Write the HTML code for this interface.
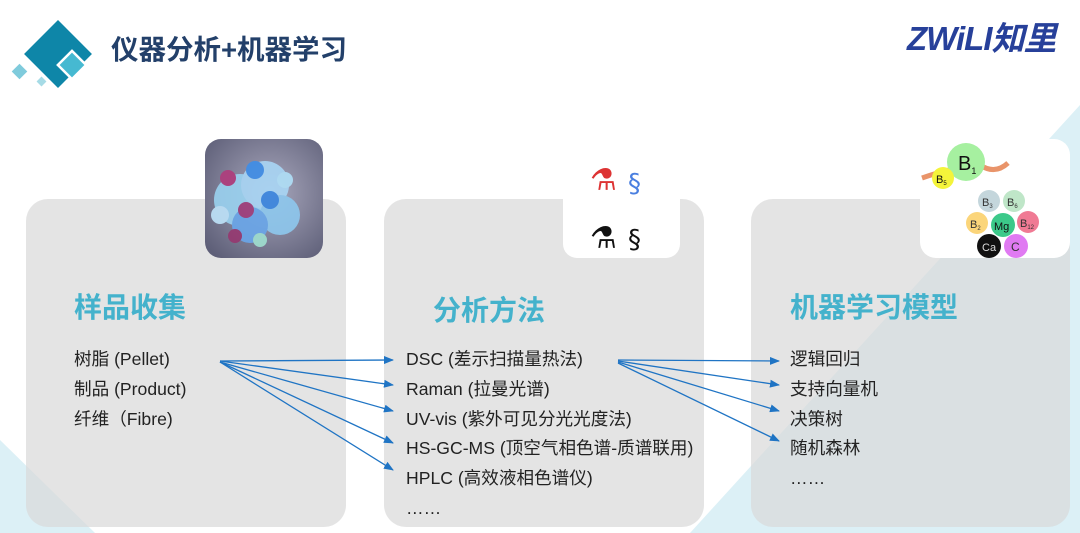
<!DOCTYPE html>
<html><head><meta charset="utf-8"><style>
html,body{margin:0;padding:0;background:#fff;}
body{width:1080px;height:533px;overflow:hidden;position:relative;font-family:"Liberation Sans","Noto Sans CJK SC",sans-serif;}
svg{position:absolute;left:0;top:0;}
.t{position:absolute;font-family:"Liberation Sans","Noto Sans CJK SC",sans-serif;white-space:nowrap;}
.h{font-size:28px;font-weight:bold;color:#44b2cc;}
.i{font-size:17.6px;color:#222;line-height:29.8px;}
</style></head><body>
<svg width="1080" height="533" viewBox="0 0 1080 533">
<defs>
<radialGradient id="mg" cx="0.55" cy="0.45" r="0.7"><stop offset="0" stop-color="#a9a8bd"/><stop offset="1" stop-color="#5e5f78"/></radialGradient>
<marker id="ar" markerWidth="10" markerHeight="8" refX="9" refY="4" orient="auto" markerUnits="userSpaceOnUse"><path d="M0,0 L10,4 L0,8 z" fill="#1f74c4"/></marker>
</defs>
<polygon points="1080,105 1080,533 690,533" fill="#dcf0f6"/>
<polygon points="0,440 0,533 95,533" fill="#dcf0f6"/>
<rect x="34" y="30" width="48" height="48" transform="rotate(45 58 54)" fill="#0e86a8"/>
<rect x="62" y="55" width="20" height="20" transform="rotate(45 72 65)" fill="#46b9d1" stroke="#fff" stroke-width="2.5"/>
<rect x="14" y="66" width="11" height="11" transform="rotate(45 19.5 71.5)" fill="#7fcbdc"/>
<rect x="38" y="78" width="7" height="7" transform="rotate(45 41.5 81.5)" fill="#a6dbe6"/>
<rect x="26" y="199" width="320" height="328" rx="22" fill="#d9d9d9" fill-opacity="0.72"/>
<rect x="384" y="199" width="320" height="328" rx="22" fill="#d9d9d9" fill-opacity="0.72"/>
<rect x="751" y="199" width="319" height="328" rx="22" fill="#d9d9d9" fill-opacity="0.72"/>
<rect x="205" y="139" width="118" height="119" rx="16" fill="url(#mg)"/>
<g opacity="0.9">
<circle cx="240" cy="200" r="26" fill="#9ad2f0"/>
<circle cx="265" cy="185" r="24" fill="#a9d6f5"/>
<circle cx="280" cy="215" r="20" fill="#8ec8ee"/>
<circle cx="250" cy="225" r="18" fill="#6aa7ea"/>
<circle cx="228" cy="178" r="8" fill="#b03c7c"/>
<circle cx="255" cy="170" r="9" fill="#3e8ee8"/>
<circle cx="246" cy="210" r="8" fill="#a03c7a"/>
<circle cx="270" cy="200" r="9" fill="#3a86e0"/>
<circle cx="235" cy="236" r="7" fill="#963870"/>
<circle cx="285" cy="180" r="8" fill="#b0e0f8"/>
<circle cx="220" cy="215" r="9" fill="#bfe4fa"/>
<circle cx="260" cy="240" r="7" fill="#a0e0d0"/>
</g>
<rect x="563" y="140" width="117" height="118" rx="14" fill="#fff"/>
<text x="590" y="190" font-size="30" fill="#d33" font-family="DejaVu Sans">⚗</text>
<text x="590" y="248" font-size="30" fill="#111" font-family="DejaVu Sans">⚗</text>
<text x="628" y="192" font-size="26" fill="#4a7fe0" font-family="DejaVu Sans">§</text>
<text x="628" y="248" font-size="26" fill="#111" font-family="DejaVu Sans">§</text>
<rect x="920" y="139" width="150" height="119" rx="16" fill="#fff"/>
<path d="M922,178 Q945,170 960,168" stroke="#e9946a" stroke-width="5" fill="none"/>
<path d="M980,165 Q995,175 1008,163" stroke="#e9946a" stroke-width="5" fill="none"/>
<circle cx="966" cy="162" r="19" fill="#a6f0a0"/><text x="958" y="170" font-size="20" fill="#111">B<tspan font-size="9" dy="4">1</tspan></text>
<circle cx="943" cy="178" r="11" fill="#f4f43a"/><text x="936" y="183" font-size="11" fill="#111">B<tspan font-size="6" dy="2">5</tspan></text>
<circle cx="989" cy="201" r="11" fill="#c4d6dc"/><text x="982" y="206" font-size="11" fill="#333">B<tspan font-size="6" dy="2">3</tspan></text>
<circle cx="1014" cy="201" r="11" fill="#bfe6c8"/><text x="1007" y="206" font-size="11" fill="#333">B<tspan font-size="6" dy="2">6</tspan></text>
<circle cx="977" cy="223" r="11" fill="#fbd57a"/><text x="970" y="228" font-size="11" fill="#333">B<tspan font-size="6" dy="2">2</tspan></text>
<circle cx="1003" cy="225" r="12" fill="#3cc98a"/><text x="994" y="230" font-size="11" fill="#111">Mg</text>
<circle cx="1028" cy="222" r="11" fill="#f07a94"/><text x="1020" y="227" font-size="11" fill="#333">B<tspan font-size="6" dy="2">12</tspan></text>
<circle cx="989" cy="246" r="12" fill="#111"/><text x="982" y="251" font-size="11" fill="#ddd">Ca</text>
<circle cx="1016" cy="246" r="12" fill="#e07af2"/><text x="1011" y="251" font-size="12" fill="#333">C</text>
<g stroke="#1f74c4" stroke-width="1.3" fill="none" marker-end="url(#ar)">
<line x1="220" y1="361" x2="393" y2="360"/>
<line x1="220" y1="361" x2="393" y2="385"/>
<line x1="220" y1="362" x2="393" y2="411"/>
<line x1="220" y1="362" x2="393" y2="443"/>
<line x1="220" y1="362" x2="393" y2="470"/>
<line x1="618" y1="360" x2="779" y2="361"/>
<line x1="618" y1="361" x2="779" y2="385"/>
<line x1="618" y1="362" x2="779" y2="411"/>
<line x1="618" y1="363" x2="779" y2="441"/>
</g>
</svg>
<div class="t" style="left:111px;top:27px;font-size:27.5px;font-weight:bold;color:#23406a;">仪器分析+机器学习</div>
<div class="t" style="left:907px;top:12px;font-size:33px;font-weight:bold;font-style:italic;color:#27409a;letter-spacing:-1px;">ZWiLI知里</div>
<div class="t h" style="left:74px;top:286px;">样品收集</div>
<div class="t h" style="left:433px;top:289px;">分析方法</div>
<div class="t h" style="left:790px;top:286px;">机器学习模型</div>
<div class="t i" style="left:74px;top:345px;">树脂 (Pellet)<br>制品 (Product)<br>纤维（Fibre)</div>
<div class="t i" style="left:406px;top:345px;">DSC (差示扫描量热法)<br>Raman (拉曼光谱)<br>UV-vis (紫外可见分光光度法)<br>HS-GC-MS (顶空气相色谱-质谱联用)<br>HPLC (高效液相色谱仪)<br>……</div>
<div class="t i" style="left:790px;top:345px;">逻辑回归<br>支持向量机<br>决策树<br>随机森林<br>……</div>
</body></html>
